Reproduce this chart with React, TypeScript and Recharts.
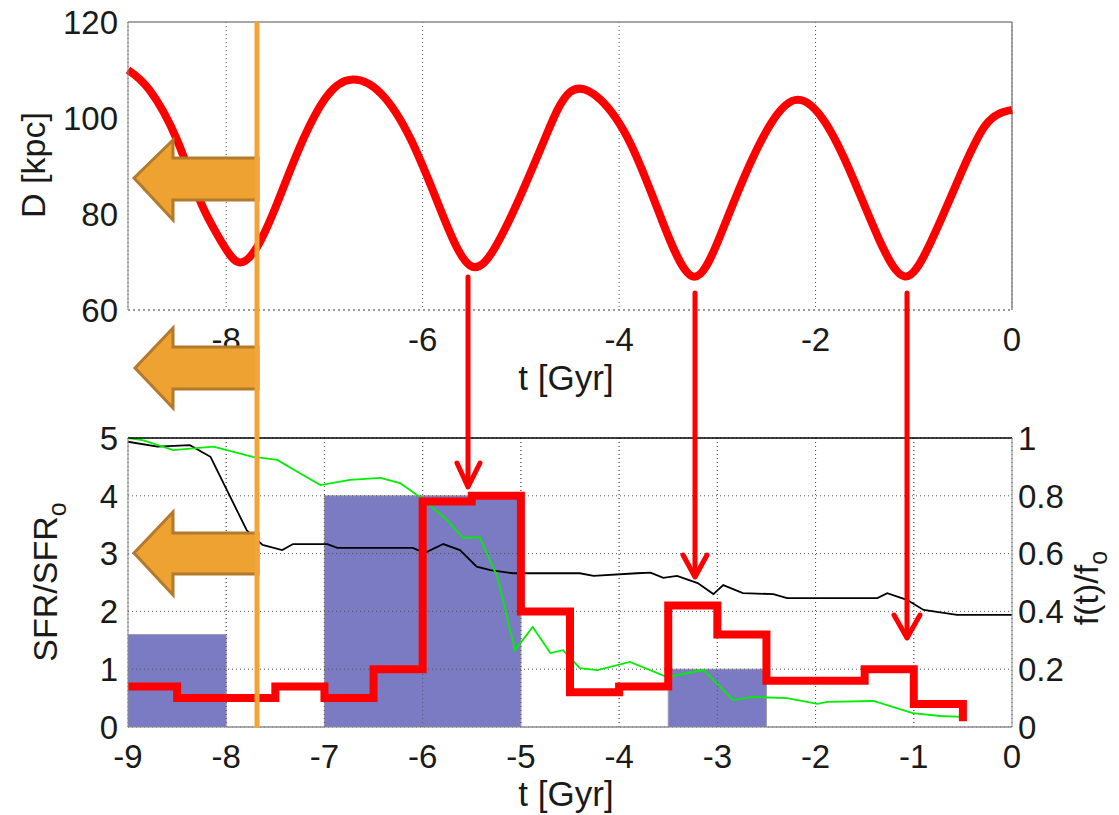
import React from 'react';
import { ComposedChart, Line, Area, XAxis, YAxis, CartesianGrid, ReferenceLine } from 'recharts';

// orbital distance D [kpc] vs t [Gyr]
const orbitT = [-9, -8.78, -8.5, -8.27, -8.06, -7.88, -7.69, -7.48, -7.25, -6.98, -6.71, -6.42, -6.12, -5.82, -5.52, -5.25, -5, -4.75, -4.5, -4.2, -3.88, -3.56, -3.25, -2.98, -2.72, -2.45, -2.18, -1.9, -1.63, -1.36, -1.09, -0.83, -0.55, -0.27, 0];
const orbitD = [110, 105.8, 95.4, 82.9, 74.6, 70, 73, 82.3, 94, 104.4, 108, 105, 95.5, 81, 69.3, 73.5, 84, 96, 105.4, 104, 94.5, 78.5, 67, 75, 88, 99, 103.8, 99, 88, 75, 67, 74, 87, 98.5, 101.7];

// SFR/SFRo histogram (blue bins), left edges
const binT = [-9, -8, -7, -5, -3.5, -2.5, 0];
const binV = [1.6, 0, 4, 0, 1, 0, 0];

// model SFR/SFRo (red steps), left edges
const stepT = [-9, -8.5, -7.5, -7, -6.5, -6, -5.5, -5, -4.5, -4, -3.5, -3, -2.5, -1.5, -1, -0.5];
const stepV = [0.7, 0.5, 0.7, 0.5, 1.0, 3.9, 4.0, 2.0, 0.6, 0.7, 2.1, 1.6, 0.8, 1.0, 0.4, 0.1];

// f(t)/fo, black curve
const blackT = [-9, -8.7, -8.37, -8.16, -7.96, -7.79, -7.63, -7.43, -7.32, -6.97, -6.87, -6.23, -6.1, -5.98, -5.79, -5.62, -5.45, -5.31, -5.08, -4.4, -4.26, -3.82, -3.68, -3.55, -3.41, -3.2, -3.04, -2.94, -2.74, -2.43, -2.29, -1.37, -1.27, -1.07, -0.9, -0.56, 0];
const blackF = [0.987, 0.97, 0.975, 0.935, 0.797, 0.68, 0.63, 0.612, 0.633, 0.633, 0.62, 0.62, 0.62, 0.602, 0.633, 0.612, 0.555, 0.543, 0.532, 0.532, 0.523, 0.532, 0.534, 0.516, 0.523, 0.498, 0.46, 0.491, 0.463, 0.46, 0.446, 0.446, 0.463, 0.44, 0.405, 0.388, 0.388];

// f(t)/fo, green curve
const greenT = [-9, -8.85, -8.54, -8.13, -7.73, -7.48, -7.25, -7.04, -6.74, -6.43, -6.23, -6.03, -5.75, -5.59, -5.42, -5.24, -5.06, -4.88, -4.7, -4.57, -4.4, -4.22, -3.89, -3.51, -3.14, -2.84, -2.64, -2.29, -1.98, -1.88, -1.41, -1.01, -0.73, -0.5];
const greenF = [1.0, 0.993, 0.958, 0.97, 0.935, 0.924, 0.878, 0.837, 0.855, 0.862, 0.844, 0.796, 0.716, 0.654, 0.657, 0.519, 0.266, 0.346, 0.256, 0.266, 0.204, 0.197, 0.225, 0.173, 0.197, 0.093, 0.104, 0.1, 0.08, 0.087, 0.09, 0.048, 0.038, 0.035];

const topTicks = [-8, -6, -4, -2, 0];
const bottomTicks = [-9, -8, -7, -6, -5, -4, -3, -2, -1, 0];
const dTicks = [60, 80, 100, 120];
const sfrTicks = [0, 1, 2, 3, 4, 5];
const fTicks = [0, 0.2, 0.4, 0.6, 0.8, 1];

const orbit = orbitT.map((t, i) => ({ t, d: orbitD[i] }));
const bins = binT.map((t, i) => ({ t, v: binV[i] }));
const steps = stepT.map((t, i) => ({ t, v: stepV[i] }));
const black = blackT.map((t, i) => ({ t, f: blackF[i] }));
const green = greenT.map((t, i) => ({ t, f: greenF[i] }));

const tickStyle = { fontSize: 33, fill: '#1a1a1a' };
const gridStroke = '#555';
const gridDash = '1 3';

const App = () => {
  return (
    <div
      style={{
        position: 'absolute',
        left: 0,
        top: 0,
        width: 1119,
        height: 815,
        background: '#fff',
        fontFamily: '"Liberation Sans", Arial, sans-serif',
      }}
    >
      <div style={{ position: 'absolute', left: 0, top: 0 }}>
        <ComposedChart width={1119} height={400} data={orbit} margin={{ top: 22, right: 107, left: 0, bottom: 0 }}>
          <CartesianGrid horizontal={false} stroke={gridStroke} strokeDasharray={gridDash} />
          <XAxis
            type="number"
            dataKey="t"
            domain={[-9, 0]}
            ticks={topTicks}
            interval={0}
            height={90}
            axisLine={{ stroke: '#333', strokeDasharray: '2 3' }}
            tickLine={false}
            tickMargin={12}
            tick={tickStyle}
            label={() => (
              <text x={566} y={390} textAnchor="middle" fontSize={35} fill="#1a1a1a">
                t [Gyr]
              </text>
            )}
          />
          <YAxis
            type="number"
            domain={[60, 120]}
            ticks={dTicks}
            interval={0}
            width={128}
            axisLine={{ stroke: '#888' }}
            tickLine={false}
            tickMargin={4}
            tick={tickStyle}
            label={() => (
              <text x={45} y={165} transform="rotate(-90 45 165)" textAnchor="middle" fontSize={34} fill="#1a1a1a">
                D [kpc]
              </text>
            )}
          />
          <ReferenceLine y={120} stroke="#888" strokeWidth={1.5} />
          <ReferenceLine x={0} stroke="#888" strokeWidth={1.5} />
          <Line dataKey="d" type="natural" stroke="#ff0000" strokeWidth={8} dot={false} isAnimationActive={false} />
        </ComposedChart>
      </div>

      <div style={{ position: 'absolute', left: 0, top: 400 }}>
        <ComposedChart width={1119} height={415} margin={{ top: 38, right: 0, left: 0, bottom: 0 }}>
          <CartesianGrid stroke={gridStroke} strokeDasharray={gridDash} />
          <XAxis
            type="number"
            dataKey="t"
            domain={[-9, 0]}
            ticks={bottomTicks}
            interval={0}
            height={88}
            axisLine={{ stroke: '#888' }}
            tickLine={false}
            tickMargin={12}
            tick={tickStyle}
            label={() => (
              <text x={566} y={406} textAnchor="middle" fontSize={35} fill="#1a1a1a">
                t [Gyr]
              </text>
            )}
          />
          <YAxis
            yAxisId="left"
            type="number"
            domain={[0, 5]}
            ticks={sfrTicks}
            interval={0}
            width={128}
            axisLine={{ stroke: '#888' }}
            tickLine={false}
            tickMargin={4}
            tick={tickStyle}
            label={() => (
              <text x={57} y={182} transform="rotate(-90 57 182)" textAnchor="middle" fontSize={34} fill="#1a1a1a">
                SFR/SFR
                <tspan fontSize={25} dy={9}>o</tspan>
              </text>
            )}
          />
          <YAxis
            yAxisId="right"
            orientation="right"
            type="number"
            domain={[0, 1]}
            ticks={fTicks}
            interval={0}
            width={107}
            axisLine={{ stroke: '#888' }}
            tickLine={false}
            tickMargin={0}
            tick={tickStyle}
            label={() => (
              <text x={1098} y={188} transform="rotate(-90 1098 188)" textAnchor="middle" fontSize={34} fill="#1a1a1a">
                f(t)/f
                <tspan fontSize={25} dy={9}>o</tspan>
              </text>
            )}
          />
          <Area
            yAxisId="left"
            data={bins}
            dataKey="v"
            type="stepAfter"
            fill="#7b7bc4"
            fillOpacity={1}
            stroke="#9a9ab0"
            strokeWidth={1}
            isAnimationActive={false}
          />
          {/* grid shows through the histogram in the original */}
          {[1, 2, 3, 4].map((v) => (
            <ReferenceLine key={'h' + v} yAxisId="left" y={v} stroke={gridStroke} strokeDasharray={gridDash} />
          ))}
          {[-8, -7, -6, -5, -4, -3, -2, -1].map((v) => (
            <ReferenceLine key={'v' + v} yAxisId="left" x={v} stroke={gridStroke} strokeDasharray={gridDash} />
          ))}
          <Line yAxisId="right" data={black} dataKey="f" type="linear" stroke="#000" strokeWidth={1.8} dot={false} isAnimationActive={false} />
          <Line yAxisId="right" data={green} dataKey="f" type="linear" stroke="#00ee00" strokeWidth={1.8} dot={false} isAnimationActive={false} />
          <Line yAxisId="left" data={steps} dataKey="v" type="stepAfter" stroke="#ff0000" strokeWidth={8} dot={false} isAnimationActive={false} />
          <ReferenceLine yAxisId="left" y={5} stroke="#000" strokeWidth={1.5} />
        </ComposedChart>
      </div>

      {/* annotations laid over both panels */}
      <svg width={1119} height={815} style={{ position: 'absolute', left: 0, top: 0, pointerEvents: 'none' }}>
        <g fill="#eda232" stroke="#b27a2a" strokeWidth={3} strokeLinejoin="miter">
          <polygon points="134,178 173,140 173,158 258,158 258,200 173,200 173,220" />
          <polygon points="135,368 173,328 173,347 258,347 258,389 173,389 173,408" />
          <polygon points="134,553 173,512 173,533 258,533 258,574 173,574 173,595" />
        </g>
        <line x1={257} y1={22} x2={257} y2={728} stroke="#f2a33a" strokeWidth={5} />
        <g stroke="#ff0000" strokeWidth={5} fill="none" strokeLinecap="round" strokeLinejoin="round">
          <line x1={468} y1={277} x2={468} y2={486} />
          <polyline points="457,463 468,487 480,463" />
          <line x1={695} y1={293} x2={695} y2={576} />
          <polyline points="683,555 695,577 707,555" />
          <line x1={907} y1={293} x2={907} y2={637} />
          <polyline points="894,615 907,638 920,615" />
        </g>
      </svg>
    </div>
  );
};

export default App;
